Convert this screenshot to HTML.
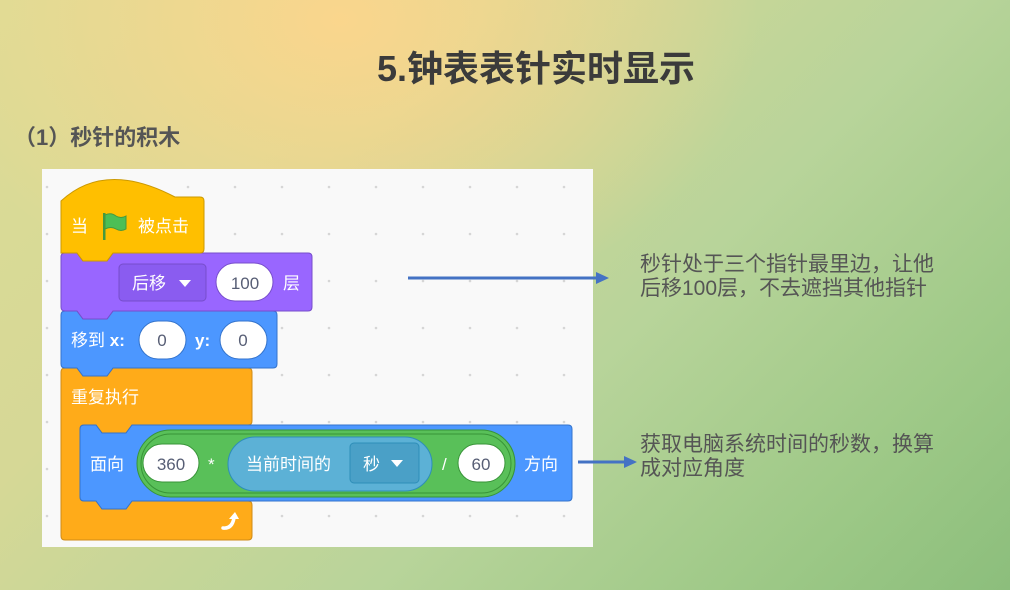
<!DOCTYPE html>
<html><head><meta charset="utf-8">
<style>
html,body{margin:0;padding:0}
body{width:1010px;height:590px;position:relative;overflow:hidden;
background:
radial-gradient(ellipse 420px 300px at 340px 20px, rgba(252,214,140,0.95), rgba(252,214,140,0) 100%),
linear-gradient(135deg,#dcdc96 0%,#d6d896 30%,#b8d49a 60%,#9cc886 85%,#8cbe7c 100%);
font-family:"Liberation Sans","Noto Sans CJK SC",sans-serif}
.t{position:absolute;white-space:nowrap}
</style></head><body>
<div class="t" style="left:377px;top:40px;font-size:36px;font-weight:bold;color:#3b3b3b;letter-spacing:0px">5.钟表表针实时显示</div>
<div class="t" style="left:14px;top:120px;font-size:22px;font-weight:bold;color:#555">（1）秒针的积木</div>
<div class="t" style="left:640px;top:253px;font-size:21px;line-height:24px;color:#555">秒针处于三个指针最里边，让他<br>后移100层，不去遮挡其他指针</div>
<div class="t" style="left:640px;top:433px;font-size:21px;line-height:24px;color:#555">获取电脑系统时间的秒数，换算<br>成对应角度</div>
<svg width="1010" height="590" style="position:absolute;left:0;top:0">
<defs><pattern id="dots" x="42" y="169" width="47" height="47" patternUnits="userSpaceOnUse"><circle cx="5" cy="18" r="1.3" fill="#d6d6d6"/></pattern></defs>
<rect x="42" y="169" width="551" height="378" fill="#f9f9f9"/>
<rect x="42" y="169" width="551" height="378" fill="url(#dots)"/>
<line x1="408" y1="278" x2="598" y2="278" stroke="#4472c4" stroke-width="3"/>
<polygon points="596,272 609,278 596,284" fill="#4472c4"/>
<line x1="578" y1="462" x2="626" y2="462" stroke="#4472c4" stroke-width="3"/>
<polygon points="624,456 637,462 624,468" fill="#4472c4"/>
<g font-family="Liberation Sans, Noto Sans CJK SC, sans-serif" font-size="17">
<path d="M61,372 Q61,368 65,368 H77 l6,8 h24 l6,-8 H248 Q252,368 252,372 V421 Q252,425 248,425 H132 l-6,8 h-24 l-6,-8 H84 Q80,425 80,429 V497 Q80,501 84,501 H96 l6,8 h24 l6,-8 H248 Q252,501 252,505 V536 Q252,540 248,540 H65 Q61,540 61,536 Z" fill="#ffab19" stroke="#cf8b17"/>
<text x="71" y="403" fill="#fff">重复执行</text>
<path d="M223,528 Q232,529 234,518" stroke="#fff" stroke-width="3.5" fill="none" stroke-linecap="round"/>
<polygon points="229,519 239,519 235,512" fill="#fff"/>
<path d="M80,429 Q80,425 84,425 H96 l6,8 h24 l6,-8 H568 Q572,425 572,429 V497 Q572,501 568,501 H132 l-6,8 h-24 l-6,-8 H84 Q80,501 80,497 Z" fill="#4c97ff" stroke="#3373cc"/>
<text x="90" y="470" fill="#fff">面向</text>
<rect x="137" y="430" width="378" height="67" rx="33.5" fill="#59c059" stroke="#389438"/>
<rect x="141" y="434" width="370" height="59" rx="29.5" fill="none" stroke="#389438" stroke-width="1"/>
<rect x="143" y="444" width="56" height="38" rx="19" fill="#fff" stroke="#389438"/>
<text x="171" y="470" fill="#575e75" text-anchor="middle">360</text>
<text x="208" y="470" fill="#fff">*</text>
<rect x="228" y="437" width="204" height="54" rx="27" fill="#5cb1d6" stroke="#2e8eb8"/>
<text x="246" y="470" fill="#fff">当前时间的</text>
<rect x="350" y="443" width="69" height="40" rx="4" fill="#4aa0c7" stroke="#2e8eb8"/>
<text x="363" y="470" fill="#fff">秒</text>
<polygon points="391,460 403,460 397,467" fill="#fff"/>
<text x="442" y="470" fill="#fff">/</text>
<rect x="458" y="444" width="47" height="38" rx="19" fill="#fff" stroke="#389438"/>
<text x="481" y="470" fill="#575e75" text-anchor="middle">60</text>
<text x="524" y="470" fill="#fff">方向</text>
<path d="M61,315 Q61,311 65,311 H77 l6,8 h24 l6,-8 H273 Q277,311 277,315 V364 Q277,368 273,368 H113 l-6,8 h-24 l-6,-8 H65 Q61,368 61,364 Z" fill="#4c97ff" stroke="#3373cc"/>
<text x="71" y="346" fill="#fff">移到 <tspan font-weight="bold">x:</tspan></text>
<rect x="139" y="321" width="47" height="38" rx="19" fill="#fff" stroke="#3373cc"/>
<text x="162" y="346" fill="#575e75" text-anchor="middle">0</text>
<text x="195" y="346" fill="#fff" font-weight="bold">y:</text>
<rect x="220" y="321" width="47" height="38" rx="19" fill="#fff" stroke="#3373cc"/>
<text x="243" y="346" fill="#575e75" text-anchor="middle">0</text>
<path d="M61,257 Q61,253 65,253 H77 l6,8 h24 l6,-8 H308 Q312,253 312,257 V307 Q312,311 308,311 H113 l-6,8 h-24 l-6,-8 H65 Q61,311 61,307 Z" fill="#9966ff" stroke="#774dcb"/>
<rect x="119" y="264" width="87" height="37" rx="4" fill="#8a5cf0" stroke="#774dcb"/>
<text x="132" y="289" fill="#fff">后移</text>
<polygon points="179,280 191,280 185,287" fill="#fff"/>
<rect x="216" y="263" width="57" height="38" rx="19" fill="#fff" stroke="#774dcb"/>
<text x="245" y="289" fill="#575e75" text-anchor="middle">100</text>
<text x="283" y="289" fill="#fff">层</text>
<path d="M61,253 V201 Q105,160 175,197 H200 Q204,197 204,201 V249 Q204,253 200,253 H113 l-6,8 h-24 l-6,-8 Z" fill="#ffbf00" stroke="#cc9900"/>
<text x="71" y="232" fill="#fff">当</text>
<rect x="103" y="213" width="2.5" height="27" fill="#45993d"/>
<path d="M105,215 Q111,212 116,216 Q121,219 126,216 V229 Q121,232 116,229 Q111,226 105,229 Z" fill="#4cbf56" stroke="#45993d" stroke-width="1"/>
<text x="138" y="232" fill="#fff">被点击</text>
</g>
</svg>
</body></html>
